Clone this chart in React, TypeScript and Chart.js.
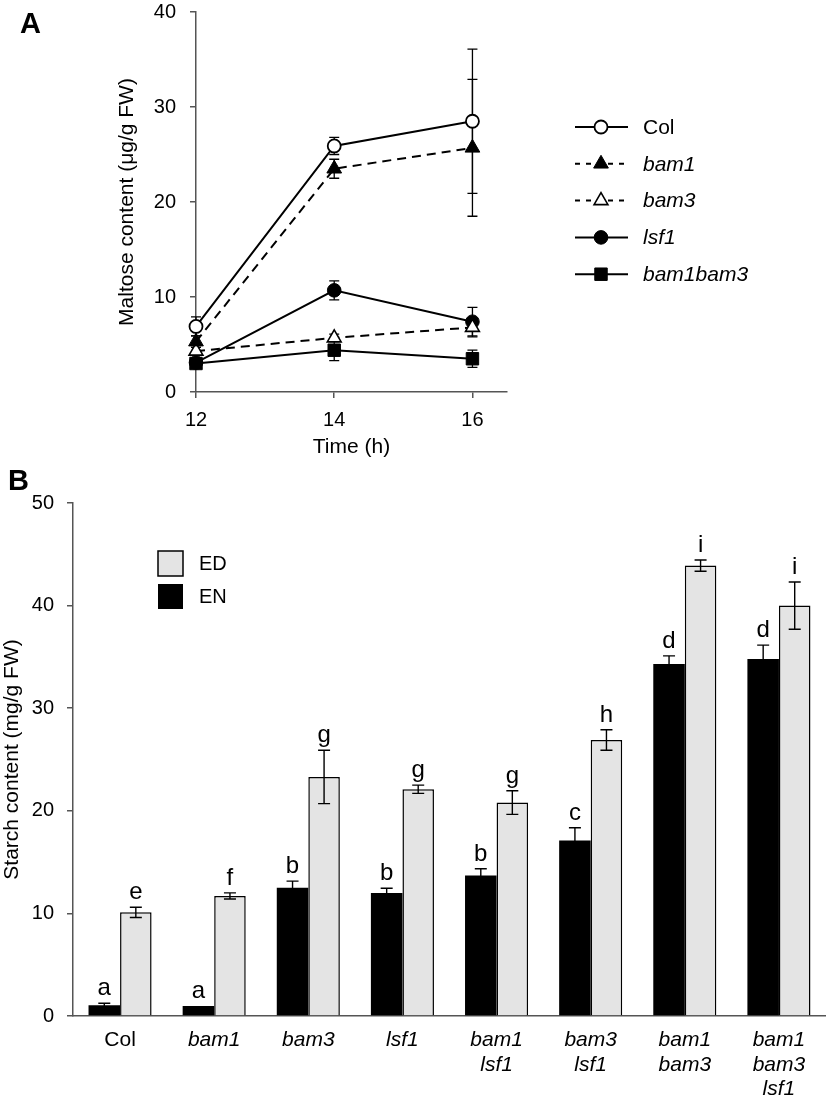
import React, { useEffect, useRef } from "react";
import { Chart, registerables } from "chart.js";
Chart.register(...registerables);

const FONT = "'Liberation Sans', Arial, Helvetica, sans-serif";

// ---------- Panel A data ----------
const timeHours = [12, 14, 16];
const timeTicks = [12, 14, 16];
const maltoseTicks = [0, 10, 20, 30, 40];
const seriesNamesA = ["Col", "bam1", "bam3", "lsf1", "bam1bam3"];
const colMaltose = [6.9, 25.9, 28.5];
const colMaltoseErr = [1.0, 0.9, 7.6];
const bam1Maltose = [5.3, 23.5, 25.7];
const bam1MaltoseErr = [0.6, 1.0, 7.2];
const bam3Maltose = [4.3, 5.7, 6.8];
const bam3MaltoseErr = [0.4, 0.4, 1.0];
const lsf1Maltose = [3.1, 10.7, 7.4];
const lsf1MaltoseErr = [0.3, 1.0, 1.5];
const bam1bam3Maltose = [3.0, 4.4, 3.5];
const bam1bam3MaltoseErr = [0.3, 1.1, 0.9];

// ---------- Panel B data ----------
const genotypes = [
  ["Col"],
  ["bam1"],
  ["bam3"],
  ["lsf1"],
  ["bam1", "lsf1"],
  ["bam3", "lsf1"],
  ["bam1", "bam3"],
  ["bam1", "bam3", "lsf1"],
];
const starchEN = [1.05, 0.98, 12.5, 12.0, 13.7, 17.1, 34.3, 34.8];
const starchENErr = [0.2, 0, 0.65, 0.45, 0.65, 1.25, 0.8, 1.35];
const starchED = [10.1, 11.7, 23.3, 22.1, 20.8, 26.9, 43.9, 40.0];
const starchEDErr = [0.5, 0.3, 2.6, 0.4, 1.15, 1.0, 0.55, 2.3];
const lettersEN = ["a", "a", "b", "b", "b", "c", "d", "d"];
const lettersED = ["e", "f", "g", "g", "g", "h", "i", "i"];
const starchTicks = [0, 10, 20, 30, 40, 50];

const W = 826;
const H = 1099;
const AXIS = "#555555";

function zeroPad(s: any) {
  s.paddingTop = 0;
  s.paddingBottom = 0;
  s.paddingLeft = 0;
  s.paddingRight = 0;
}

function drawMarker(ctx: CanvasRenderingContext2D, style: string, x: number, y: number, r: number, fill: string, stroke: string, lw: number) {
  ctx.save();
  ctx.setLineDash([]);
  ctx.beginPath();
  if (style === "circle") {
    ctx.arc(x, y, r, 0, Math.PI * 2);
  } else if (style === "triangle") {
    ctx.moveTo(x, y - r);
    ctx.lineTo(x + r * Math.sin(Math.PI * 2 / 3), y - r * Math.cos(Math.PI * 2 / 3));
    ctx.lineTo(x + r * Math.sin(Math.PI * 4 / 3), y - r * Math.cos(Math.PI * 4 / 3));
    ctx.closePath();
  } else {
    const s = r * Math.SQRT1_2;
    ctx.rect(x - s, y - s, 2 * s, 2 * s);
  }
  ctx.fillStyle = fill;
  ctx.fill();
  ctx.lineWidth = lw;
  ctx.strokeStyle = stroke;
  ctx.stroke();
  ctx.restore();
}

function ChartA() {
  const ref = useRef<HTMLCanvasElement | null>(null);
  useEffect(() => {
    if (!ref.current) return;
    const vals = [colMaltose, bam1Maltose, bam3Maltose, lsf1Maltose, bam1bam3Maltose];
    const errs = [colMaltoseErr, bam1MaltoseErr, bam3MaltoseErr, lsf1MaltoseErr, bam1bam3MaltoseErr];
    const styles = [
      { ps: "circle", fill: "#ffffff", r: 6.5, bw: 1.8, dash: [] as number[] },
      { ps: "triangle", fill: "#000000", r: 8.5, bw: 1, dash: [9, 6] },
      { ps: "triangle", fill: "#ffffff", r: 8, bw: 1.6, dash: [9, 6] },
      { ps: "circle", fill: "#000000", r: 6.8, bw: 1, dash: [] as number[] },
      { ps: "rect", fill: "#000000", r: 8.8, bw: 1, dash: [] as number[] },
    ];
    const datasets = seriesNamesA.map((name, i) => ({
      label: name,
      data: timeHours.map((t, j) => ({ x: t, y: vals[i][j] })),
      borderColor: "#000",
      borderWidth: 2,
      borderDash: styles[i].dash,
      pointStyle: styles[i].ps,
      pointRadius: styles[i].r,
      pointBackgroundColor: styles[i].fill,
      pointBorderColor: "#000",
      pointBorderWidth: styles[i].bw,
      fill: false,
      tension: 0,
      clip: false,
    }));

    const errPlugin = {
      id: "errA",
      beforeDatasetsDraw(chart: any) {
        const ctx = chart.ctx;
        const ys = chart.scales.y;
        ctx.save();
        ctx.strokeStyle = "#000";
        ctx.lineWidth = 1.3;
        ctx.setLineDash([]);
        chart.data.datasets.forEach((ds: any, i: number) => {
          const meta = chart.getDatasetMeta(i);
          meta.data.forEach((pt: any, j: number) => {
            const v = vals[i][j];
            const e = errs[i][j];
            if (e <= 0) return;
            const yt = ys.getPixelForValue(v + e);
            const yb = ys.getPixelForValue(v - e);
            const x = pt.x;
            ctx.beginPath();
            ctx.moveTo(x, yt);
            ctx.lineTo(x, yb);
            ctx.moveTo(x - 5, yt);
            ctx.lineTo(x + 5, yt);
            ctx.moveTo(x - 5, yb);
            ctx.lineTo(x + 5, yb);
            ctx.stroke();
          });
        });
        ctx.restore();
      },
      afterDraw(chart: any) {
        const ctx = chart.ctx;
        ctx.save();
        ctx.fillStyle = "#000";
        ctx.font = `bold 29px ${FONT}`;
        ctx.textBaseline = "alphabetic";
        ctx.textAlign = "left";
        ctx.fillText("A", 20, 33);
        seriesNamesA.forEach((name, i) => {
          const y = 127 + i * 36.8;
          ctx.strokeStyle = "#000";
          ctx.lineWidth = 2;
          ctx.setLineDash(styles[i].dash.length ? [5, 6] : []);
          ctx.beginPath();
          ctx.moveTo(575, y);
          ctx.lineTo(628, y);
          ctx.stroke();
          ctx.setLineDash([]);
          drawMarker(ctx, styles[i].ps, 601, y, styles[i].r, styles[i].fill, "#000", styles[i].bw);
          ctx.fillStyle = "#000";
          ctx.font = `${i === 0 ? "normal" : "italic"} 21px ${FONT}`;
          ctx.textBaseline = "middle";
          ctx.textAlign = "left";
          ctx.fillText(name, 643, y + 1);
        });
        ctx.restore();
      },
    };

    const chart = new Chart(ref.current, {
      type: "line",
      data: { datasets: datasets as any },
      options: {
        animation: false,
        responsive: false,
        devicePixelRatio: 1,
        layout: { padding: { left: 100, top: 12, right: W - 507, bottom: H - 392 - 70 } },
        plugins: { legend: { display: false }, tooltip: { enabled: false } },
        scales: {
          x: {
            type: "linear",
            min: 12,
            max: 16.5,
            afterBuildTicks: (s: any) => {
              s.ticks = timeTicks.map((v) => ({ value: v }));
            },
            afterFit: (s: any) => {
              s.height = 70;
              zeroPad(s);
            },
            grid: { display: true, drawOnChartArea: false, drawTicks: true, tickLength: 6, color: AXIS, lineWidth: 1.5 },
            border: { display: true, color: AXIS, width: 1.5 },
            ticks: { color: "#000", font: { family: FONT, size: 20 }, padding: 10, maxRotation: 0 },
            title: { display: true, text: "Time (h)", color: "#000", font: { family: FONT, size: 21 }, padding: { top: 0, bottom: 2 } },
          },
          y: {
            min: 0,
            max: 40,
            afterBuildTicks: (s: any) => {
              s.ticks = maltoseTicks.map((v) => ({ value: v }));
            },
            afterFit: (s: any) => {
              s.width = 96;
              zeroPad(s);
            },
            grid: { display: true, drawOnChartArea: false, drawTicks: true, tickLength: 6, color: AXIS, lineWidth: 1.5 },
            border: { display: true, color: AXIS, width: 1.5 },
            ticks: { color: "#000", font: { family: FONT, size: 20 }, padding: 14 },
            title: { display: true, text: "Maltose content (μg/g FW)", color: "#000", font: { family: FONT, size: 21 }, padding: { top: 15, bottom: 0 } },
          },
        },
      },
      plugins: [errPlugin],
    });
    return () => chart.destroy();
  }, []);
  return <canvas ref={ref} width={W} height={H} style={{ position: "absolute", left: 0, top: 0 }} />;
}

function ChartB() {
  const ref = useRef<HTMLCanvasElement | null>(null);
  useEffect(() => {
    if (!ref.current) return;
    const vals = [starchEN, starchED];
    const errs = [starchENErr, starchEDErr];
    const letters = [lettersEN, lettersED];
    const plugin = {
      id: "errB",
      afterDatasetsDraw(chart: any) {
        const ctx = chart.ctx;
        const ys = chart.scales.y;
        ctx.save();
        ctx.setLineDash([]);
        [0, 1].forEach((i) => {
          const meta = chart.getDatasetMeta(i);
          meta.data.forEach((bar: any, j: number) => {
            const v = vals[i][j];
            const e = errs[i][j];
            const yt = ys.getPixelForValue(v + e);
            const yb = ys.getPixelForValue(v - e);
            const x = bar.x;
            if (e > 0) {
              ctx.strokeStyle = "#000";
              ctx.lineWidth = 1.4;
              ctx.beginPath();
              ctx.moveTo(x, yt);
              ctx.lineTo(x, yb);
              ctx.moveTo(x - 6, yt);
              ctx.lineTo(x + 6, yt);
              ctx.moveTo(x - 6, yb);
              ctx.lineTo(x + 6, yb);
              ctx.stroke();
            }
            ctx.fillStyle = "#000";
            ctx.font = `24px ${FONT}`;
            ctx.textAlign = "center";
            ctx.textBaseline = "alphabetic";
            ctx.fillText(letters[i][j], x, yt - 8);
          });
        });
        ctx.font = `bold 29px ${FONT}`;
        ctx.textAlign = "left";
        ctx.fillText("B", 8, 490);
        ctx.fillStyle = "#e4e4e4";
        ctx.fillRect(158, 551, 25, 25);
        ctx.strokeStyle = "#000";
        ctx.lineWidth = 1.5;
        ctx.strokeRect(158, 551, 25, 25);
        ctx.fillStyle = "#000";
        ctx.fillRect(158, 584, 25, 25);
        ctx.font = `20px ${FONT}`;
        ctx.textBaseline = "middle";
        ctx.fillText("ED", 199, 564);
        ctx.fillText("EN", 199, 597);
        ctx.restore();
      },
    };
    const chart = new Chart(ref.current, {
      type: "bar",
      data: {
        labels: genotypes as any,
        datasets: [
          {
            label: "EN",
            data: starchEN,
            backgroundColor: "#000000",
            borderColor: "#000000",
            borderWidth: 0,
            categoryPercentage: 0.67,
            barPercentage: 1.0,
          },
          {
            label: "ED",
            data: starchED,
            backgroundColor: "#e4e4e4",
            borderColor: "#000000",
            borderWidth: 1.5,
            categoryPercentage: 0.67,
            barPercentage: 1.0,
          },
        ],
      },
      options: {
        animation: false,
        responsive: false,
        devicePixelRatio: 1,
        layout: { padding: { left: 0, top: 503, right: 0, bottom: 0 } },
        plugins: { legend: { display: false }, tooltip: { enabled: false } },
        scales: {
          x: {
            afterFit: (s: any) => {
              s.height = 83;
              zeroPad(s);
            },
            grid: { display: false, drawTicks: false },
            border: { display: true, color: AXIS, width: 1.5 },
            ticks: {
              color: "#000",
              padding: 12,
              maxRotation: 0,
              autoSkip: false,
              font: (c: any) => ({ family: FONT, size: 21, style: c.index === 0 ? "normal" : "italic", lineHeight: 1.17 }),
            },
          },
          y: {
            min: 0,
            max: 50,
            afterBuildTicks: (s: any) => {
              s.ticks = starchTicks.map((v) => ({ value: v }));
            },
            afterFit: (s: any) => {
              s.width = 73;
              zeroPad(s);
            },
            grid: { display: true, drawOnChartArea: false, drawTicks: true, tickLength: 6, color: AXIS, lineWidth: 1.5 },
            border: { display: true, color: AXIS, width: 1.5 },
            ticks: { color: "#000", font: { family: FONT, size: 20 }, padding: 13 },
            title: { display: true, text: "Starch content (mg/g FW)", color: "#000", font: { family: FONT, size: 21 }, padding: { top: 0, bottom: 0 } },
          },
        },
      },
      plugins: [plugin],
    });
    return () => chart.destroy();
  }, []);
  return <canvas ref={ref} width={W} height={H} style={{ position: "absolute", left: 0, top: 0 }} />;
}

export default function App() {
  return (
    <div style={{ position: "absolute", left: 0, top: 0, width: W, height: H, background: "#ffffff", overflow: "hidden" }}>
      <ChartB />
      <ChartA />
    </div>
  );
}
